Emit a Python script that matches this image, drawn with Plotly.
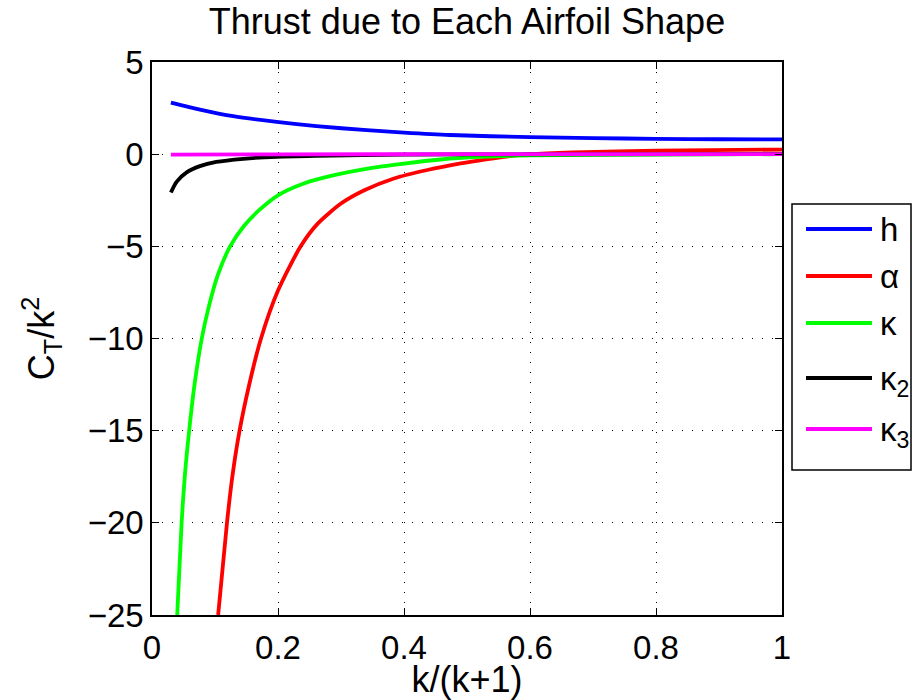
import plotly.graph_objects as go

# Data
h_x = [0.030, 0.076, 0.129, 0.198, 0.261, 0.341, 0.400, 0.473, 0.600, 0.700, 0.800, 0.900, 1.000]
h_y = [2.80, 2.42, 2.06, 1.75, 1.52, 1.30, 1.17, 1.04, 0.92, 0.87, 0.83, 0.81, 0.80]

alpha_x = [0.105, 0.119, 0.1275, 0.139, 0.155, 0.173, 0.200, 0.236, 0.263, 0.300, 0.337, 0.384, 0.437, 0.490, 0.530, 0.562, 0.600, 0.668, 0.800, 1.000]
alpha_y = [-25.0, -20.0, -17.5, -15.0, -12.4, -10.0, -7.4, -5.0, -3.77, -2.68, -1.96, -1.32, -0.86, -0.50, -0.28, -0.13, 0.0, 0.10, 0.19, 0.25]

kappa_x = [0.040, 0.047, 0.052, 0.059, 0.0675, 0.079, 0.090, 0.104, 0.124, 0.146, 0.170, 0.200, 0.241, 0.289, 0.342, 0.400, 0.458, 0.520, 0.600, 0.800, 1.000]
kappa_y = [-25.0, -20.0, -17.5, -15.0, -12.5, -10.0, -8.3, -6.6, -5.0, -3.9, -3.04, -2.23, -1.59, -1.14, -0.78, -0.51, -0.29, -0.15, -0.06, -0.02, 0.0]

kappa2_x = [0.030, 0.039, 0.055, 0.076, 0.102, 0.145, 0.198, 0.260, 0.400, 0.600, 1.000]
kappa2_y = [-2.08, -1.50, -0.99, -0.65, -0.42, -0.25, -0.14, -0.09, -0.03, -0.01, 0.0]

kappa3_x = [0.030, 0.200, 0.500, 1.000]
kappa3_y = [-0.03, -0.01, 0.0, 0.0]

series_names = ["h", "α", "κ", "κ<sub>2</sub>", "κ<sub>3</sub>"]
series_x = [h_x, alpha_x, kappa_x, kappa2_x, kappa3_x]
series_y = [h_y, alpha_y, kappa_y, kappa2_y, kappa3_y]
series_colors = ["#0000ff", "#ff0000", "#00ff00", "#000000", "#ff00ff"]

x_ticks = [0, 0.2, 0.4, 0.6, 0.8, 1]
x_tick_text = ["0", "0.2", "0.4", "0.6", "0.8", "1"]
y_ticks = [5, 0, -5, -10, -15, -20, -25]
y_tick_text = ["5", "0", "−5", "−10", "−15", "−20", "−25"]

FONT = "Liberation Sans, Arial, Helvetica, sans-serif"
FS = 33
FS_LABEL = 36

W, H = 914, 700
ML, MR, MT, MB = 152, 132, 62, 85
PW, PH = W - ML - MR, H - MT - MB


def px_to_paper(px, py):
    return (px - ML) / PW, (H - MB - py) / PH


fig = go.Figure()
for name, xs, ys, col in zip(series_names, series_x, series_y, series_colors):
    fig.add_trace(go.Scatter(x=xs, y=ys, mode="lines", name=name, showlegend=False,
                             line=dict(color=col, width=3.8, shape="spline", smoothing=0.7)))

# Legend box drawn as in the reference (outside the axes, right side)
lx0, ly0 = px_to_paper(792, 204)
lx1, ly1 = px_to_paper(911, 470)
fig.add_shape(type="rect", xref="paper", yref="paper", x0=lx0, y0=ly0, x1=lx1, y1=ly1,
              line=dict(color="black", width=1.5), fillcolor="white", layer="above")
entry_py = [229, 276, 323, 378, 429]
for name, col, py in zip(series_names, series_colors, entry_py):
    ax0, ay = px_to_paper(806, py)
    ax1, _ = px_to_paper(872, py)
    fig.add_shape(type="line", xref="paper", yref="paper", x0=ax0, x1=ax1, y0=ay, y1=ay,
                  line=dict(color=col, width=3.8), layer="above")
    tx, _ = px_to_paper(878, py)
    sub = "<sub>" in name
    fig.add_annotation(xref="paper", yref="paper", x=tx, y=ay, text=name, showarrow=False,
                       xanchor="left", yanchor="middle", yshift=(-3 if sub else 0),
                       font=dict(family=FONT, size=FS, color="black"))

axis_common = dict(
    showline=True, linecolor="black", linewidth=1.5, mirror="ticks",
    ticks="inside", ticklen=7, tickcolor="black", tickwidth=1,
    showgrid=True, gridcolor="black", gridwidth=1, griddash="1px,9px",
    zeroline=False, tickfont=dict(family=FONT, size=FS, color="black"),
)

fig.update_layout(
    width=W, height=H,
    margin=dict(l=ML, r=MR, t=MT, b=MB, autoexpand=False),
    paper_bgcolor="white", plot_bgcolor="white",
    font=dict(family=FONT, size=FS, color="black"),
    title=dict(text="Thrust due to Each Airfoil Shape", x=0.5, xref="paper", xanchor="center",
               y=1 - 21 / H, yref="container", yanchor="middle",
               font=dict(family=FONT, size=FS_LABEL, color="black")),
    xaxis=dict(range=[0, 1], tickvals=x_ticks, ticktext=x_tick_text, ticklabelstandoff=3,
               title=dict(text="k/(k+1)", standoff=9, font=dict(family=FONT, size=FS_LABEL)),
               automargin=False, **axis_common),
    yaxis=dict(range=[-25, 5], tickvals=y_ticks, ticktext=y_tick_text,
               title=dict(text="C<sub>T</sub>/k<sup>2</sup>", standoff=22, font=dict(family=FONT, size=FS_LABEL)),
               automargin=False, **axis_common),
    showlegend=False,
)

fig.write_html("out.html", config={"displayModeBar": False},
               post_script="document.body.style.margin='0px';")
